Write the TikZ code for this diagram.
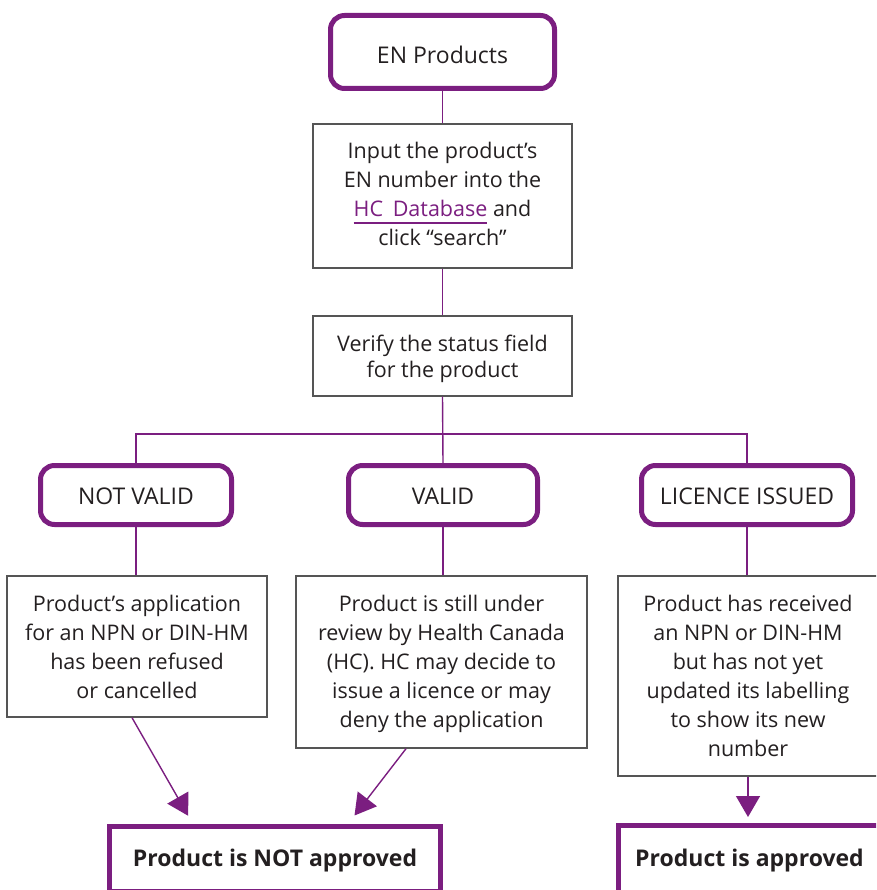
\documentclass[tikz,border=0pt]{standalone}
\usepackage{fontspec}
\setmainfont{Open Sans}
\usetikzlibrary{arrows.meta,calc}
\definecolor{hcpurple}{RGB}{123,30,128}
\definecolor{txt}{RGB}{35,31,32}
\definecolor{boxgray}{RGB}{85,85,85}
\newcommand\hcdb{\setbox0\hbox{{\color{hcpurple}HC\hspace{0.45em}Database}}\rlap{{\color{hcpurple}\rule[-7pt]{\wd0}{1.2pt}}}\box0}
\newcommand\bl[2]{\raisebox{#1}[0pt][0pt]{#2}}
\begin{document}
\begin{tikzpicture}[x=1pt,y=-1pt,
  every node/.style={text=txt, font=\fontsize{21.5}{29}\selectfont, align=center, inner sep=0pt},
  pill/.style={draw=hcpurple, line width=5pt, rounded corners=14pt, font=\fontsize{23}{28}\selectfont},
  plainbox/.style={draw=boxgray, line width=1.4pt},
  result/.style={draw=hcpurple, line width=5pt, font=\bfseries\fontsize{23}{28}\selectfont},
  conn/.style={draw=hcpurple, line width=1.4pt},
  arr/.style={conn, -{Triangle[length=21pt,width=24pt]}}
]
\useasboundingbox (0,0) rectangle (876,890);
\clip (0,0) rectangle (876,890);

\node[pill, minimum width=224pt, minimum height=73pt] (en) at (442.5,52) {\bl{-11.3pt}{EN Products}};
\node[plainbox, minimum width=259pt, minimum height=144pt] (input) at (442.5,196)
  {Input the product’s\\EN number into the\\\hcdb\ and\\click “search”\rule[-4pt]{0pt}{1pt}};
\node[plainbox, minimum width=259pt, minimum height=80pt, font=\fontsize{21.5}{26}\selectfont] (verify) at (442.5,356)
  {\rule{0pt}{23pt}Verify the status field\\for the product};

\node[pill, minimum width=191pt, minimum height=59pt] (nv) at (136,495) {\bl{-9pt}{NOT VALID}};
\node[pill, minimum width=189pt, minimum height=59pt] (va) at (443,495) {\bl{-9pt}{VALID}};
\node[pill, minimum width=211pt, minimum height=59pt] (li) at (747,495) {\bl{-9pt}{LICENCE ISSUED}};

\node[plainbox, minimum width=260pt, minimum height=141pt] (b1) at (137,646.5)
  {Product’s application\\for an NPN or DIN-HM\\has been refused\\or cancelled};
\node[plainbox, minimum width=291pt, minimum height=172pt] (b2) at (441.5,662)
  {\rule{0pt}{20pt}Product is still under\\review by Health Canada\\(HC). HC may decide to\\issue a licence or may\\deny the application};
\node[plainbox, minimum width=260pt, minimum height=200pt] (b3) at (748,676)
  {Product has received\\an NPN or DIN-HM\\but has not yet\\updated its labelling\\to show its new\\number};

\node[result, minimum width=331pt, minimum height=65pt] (na) at (275,859) {\bl{-7.7pt}{Product is NOT approved}};
\node[result, minimum width=262pt, minimum height=67pt] (ap) at (749.5,859) {\bl{-7.7pt}{Product is approved}};

\coordinate (hbar) at (0,434);
\coordinate (tipc) at (0,817);

\draw[conn] (en) -- (input);
\draw[conn] (input) -- (verify);
\draw[conn] (verify.south) -- (va.north);
\draw[conn] (nv.north) -- (nv.north |- hbar) -- (li.north |- hbar) -- (li.north);
\draw[conn] (nv.south) -- (nv.south |- b1.north);
\draw[conn] (va.south) -- (va.south |- b2.north);
\draw[conn] (li.south) -- (li.south |- b3.north);

\draw[arr] ($(b1.south)+(-5,0)$) -- ($(na.north west)+(81.2,-8.2)$);
\draw[arr] ($(b2.south)+(-35.5,0)$) -- ($(na.north west)+(247.5,-8.5)$);
\draw[arr] (b3.south) -- (b3.south |- tipc);
\end{tikzpicture}
\end{document}
